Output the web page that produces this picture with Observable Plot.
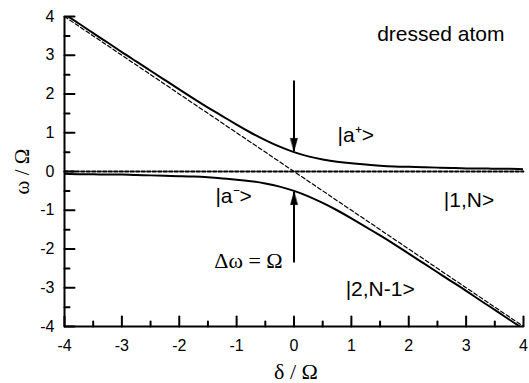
<!DOCTYPE html>
<html>
<head>
<meta charset="utf-8">
<script src="https://cdn.jsdelivr.net/npm/d3@7"></script>
<script src="https://cdn.jsdelivr.net/npm/@observablehq/plot@0.6"></script>
<style>
  html, body { margin: 0; padding: 0; background: #fff; }
  #chart { width: 529px; height: 383px; }
</style>
</head>
<body>
<div id="chart"></div>
<script>
// detuning δ/Ω
const delta = [-4, -3.75, -3.5, -3.25, -3, -2.75, -2.5, -2.25, -2, -1.75, -1.5, -1.25, -1, -0.75, -0.5, -0.25,
  0, 0.25, 0.5, 0.75, 1, 1.25, 1.5, 1.75, 2, 2.25, 2.5, 2.75, 3, 3.25, 3.5, 3.75, 4];
// dressed state |a+> energy ω/Ω
const upper = [4.06, 3.82, 3.57, 3.33, 3.08, 2.84, 2.60, 2.36, 2.12, 1.88, 1.65, 1.43, 1.21, 1.00, 0.81, 0.64,
  0.50, 0.39, 0.31, 0.25, 0.21, 0.18, 0.15, 0.13, 0.12, 0.11, 0.10, 0.09, 0.08, 0.08, 0.07, 0.07, 0.06];
// dressed state |a-> energy ω/Ω
const lower = [-0.06, -0.07, -0.07, -0.08, -0.08, -0.09, -0.10, -0.11, -0.12, -0.13, -0.15, -0.18, -0.21, -0.25, -0.31, -0.39,
  -0.50, -0.64, -0.81, -1.00, -1.21, -1.43, -1.65, -1.88, -2.12, -2.36, -2.60, -2.84, -3.08, -3.33, -3.57, -3.82, -4.06];
// bare states (dashed)
const bare1Delta = [-4, 4];
const bare1Omega = [0, 0];      // |1,N>
const bare2Delta = [-4, 4];
const bare2Omega = [4, -4];     // |2,N-1>

// ticks
const xMajor = [-4, -3, -2, -1, 0, 1, 2, 3, 4];
const xMinor = [-3.5, -2.5, -1.5, -0.5, 0.5, 1.5, 2.5, 3.5];
const yMajor = [-4, -3, -2, -1, 0, 1, 2, 3, 4];
const yMinor = [-3.5, -2.5, -1.5, -0.5, 0.5, 1.5, 2.5, 3.5];

// annotations
const arrowX = [0, 0];
const arrowFrom = [2.35, -2.35];
const arrowTo = [0.52, -0.52];
const arrowDir = [180, 0];

const sansLabels = ["dressed atom", "|a\u207A>", "|a\u207B>", "|1,N>", "|2,N-1>"];
const sansLabelX = [1.45, 0.76, -1.37, 2.61, 0.90];
const sansLabelY = [3.55, 0.93, -0.65, -0.75, -3.05];
const serifLabels = ["\u0394\u03C9 = \u03A9"];
const serifLabelX = [-1.39];
const serifLabelY = [-2.32];

const curveData = delta.map((d, i) => ({d, up: upper[i], lo: lower[i]}));
const arrows = arrowX.map((x, i) => ({x, y1: arrowFrom[i], y2: arrowTo[i], rot: arrowDir[i]}));
const sansText = sansLabels.map((t, i) => ({t, x: sansLabelX[i], y: sansLabelY[i]}));
const serifText = serifLabels.map((t, i) => ({t, x: serifLabelX[i], y: serifLabelY[i]}));

const tickShape = { draw(ctx, l) { ctx.moveTo(0, 0); ctx.lineTo(0, -l); } };
const headShape = { draw(ctx, l, r) { ctx.moveTo(0, -l); ctx.lineTo(-r, 0); ctx.lineTo(r, 0); ctx.closePath(); } };

const sans = "'Liberation Sans', Arial, sans-serif";
const serif = "'Liberation Serif', 'Times New Roman', serif";

const chart = Plot.plot({
  width: 529,
  height: 383,
  marginLeft: 64,
  marginRight: 6,
  marginTop: 16,
  marginBottom: 57,
  style: {background: "white", color: "black", fontFamily: sans},
  x: {domain: [-4, 4]},
  y: {domain: [-4, 4]},
  marks: [
    // bare-state dashed lines
    Plot.line(bare2Delta.map((d, i) => ({d, w: bare2Omega[i]})), {x: "d", y: "w", stroke: "black", strokeWidth: 1.2, strokeDasharray: "4,2.5"}),
    Plot.line(bare1Delta.map((d, i) => ({d, w: bare1Omega[i]})), {x: "d", y: "w", stroke: "black", strokeWidth: 1.8, strokeDasharray: "3.5,2"}),
    // dressed-state curves
    Plot.line(curveData, {x: "d", y: "up", stroke: "black", strokeWidth: 2, curve: "natural", clip: true}),
    Plot.line(curveData, {x: "d", y: "lo", stroke: "black", strokeWidth: 2, curve: "natural", clip: true}),
    // arrows
    Plot.link(arrows, {x1: "x", x2: "x", y1: "y1", y2: "y2", stroke: "black", strokeWidth: 2}),
    Plot.vector(arrows, {x: "x", y: "y2", rotate: "rot", length: 13, r: 3.5, anchor: "end", shape: headShape, fill: "black", stroke: "black", strokeWidth: 0.5}),
    // axis lines
    Plot.ruleX([-4], {stroke: "black", strokeWidth: 2}),
    Plot.ruleY([-4], {stroke: "black", strokeWidth: 2}),
    // inward ticks
    Plot.vector(xMajor, {x: d => d, y: -4, length: 10, rotate: 0, anchor: "start", shape: tickShape, strokeWidth: 2}),
    Plot.vector(xMinor, {x: d => d, y: -4, length: 5, rotate: 0, anchor: "start", shape: tickShape, strokeWidth: 2}),
    Plot.vector(yMajor, {x: -4, y: d => d, length: 10, rotate: 90, anchor: "start", shape: tickShape, strokeWidth: 2}),
    Plot.vector(yMinor, {x: -4, y: d => d, length: 5, rotate: 90, anchor: "start", shape: tickShape, strokeWidth: 2}),
    // tick labels
    Plot.axisX({ticks: xMajor, tickFormat: d => String(d), tickSize: 0, tickPadding: 13, fontSize: 16, fontFamily: sans, label: null}),
    Plot.axisY({ticks: yMajor, tickFormat: d => String(d), tickSize: 0, tickPadding: 10, fontSize: 16, fontFamily: sans, label: null}),
    // axis titles
    Plot.text(["\u03B4 / \u03A9"], {frameAnchor: "bottom", lineAnchor: "middle", textAnchor: "middle", dx: 2, dy: 45, fontSize: 22, fontFamily: serif}),
    Plot.text(["\u03C9 / \u03A9"], {frameAnchor: "left", lineAnchor: "middle", textAnchor: "middle", dx: -42, rotate: -90, fontSize: 21, fontFamily: serif}),
    // annotations
    Plot.text(sansText, {x: "x", y: "y", text: "t", textAnchor: "start", fontSize: 21, fontFamily: sans}),
    Plot.text(serifText, {x: "x", y: "y", text: "t", textAnchor: "start", fontSize: 22, fontFamily: serif})
  ]
});
document.getElementById("chart").appendChild(chart);
</script>
</body>
</html>
